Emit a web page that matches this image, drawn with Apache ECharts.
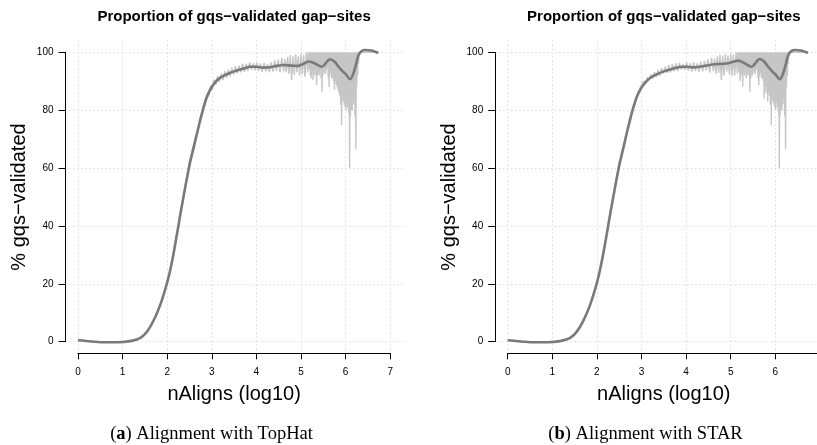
<!DOCTYPE html>
<html>
<head>
<meta charset="utf-8">
<script src="https://cdn.jsdelivr.net/npm/echarts@6/dist/echarts.min.js"></script>
<style>
  html, body { margin: 0; padding: 0; background: #fff; }
  #chart { width: 817px; height: 445px; }
</style>
</head>
<body>
<div id="chart"></div>
<script>
// x positions (log10 nAligns) of the raw proportions, sparse part
const rawX = [
  0, 0.3, 0.48, 0.6, 0.7, 0.78, 0.85, 0.9, 0.95, 1.0, 1.05, 1.1, 1.15, 1.2, 1.25, 1.3, 1.35, 1.4, 1.45, 1.5,
  1.55, 1.6, 1.65, 1.7, 1.75, 1.8, 1.85, 1.9, 1.95, 2.0, 2.05, 2.1, 2.15, 2.2, 2.25, 2.3, 2.35, 2.4, 2.45,
  2.49, 2.53, 2.57, 2.61, 2.65, 2.69, 2.73, 2.77, 2.81, 2.85, 2.89, 2.93, 2.97, 3.01, 3.05, 3.09, 3.13, 3.17,
  3.21, 3.25, 3.29, 3.33, 3.37, 3.41, 3.45, 3.49, 3.53, 3.57, 3.61, 3.65, 3.69, 3.73, 3.77, 3.81, 3.85, 3.89,
  3.93, 3.97, 4.01, 4.05, 4.09, 4.13, 4.17, 4.21, 4.25, 4.29, 4.33, 4.37, 4.41, 4.45, 4.49, 4.53, 4.57, 4.61,
  4.64, 4.67, 4.70, 4.73, 4.76, 4.79, 4.82, 4.85, 4.88, 4.91, 4.94, 4.97, 5.00, 5.03, 5.06, 5.09, 5.12, 5.15
];
const tophatRaw = [
  0.6, 0.2, -0.1, 0.1, -0.3, 0, -0.2, 0.1, -0.3, 0, -0.2, 0.2, 0, 0.4, 0.3, 0.8, 0.7, 1.5, 1.6, 2.6,
  3.2, 4.6, 5.8, 7.9, 8.6, 11.2, 12.6, 15.8, 17.2, 21, 23.1, 27.8, 30.6, 36.2, 39.1, 45.3, 47.8, 53.8, 56.2,
  61.8, 62.2, 66.8, 67.1, 71.5, 72.6, 76.8, 77.2, 81.5, 81.4, 85.6, 84.8, 88.4, 86.9, 90.6, 88.8, 91.8, 89.9,
  92.6, 90.4, 93.5, 91.2, 94.1, 91.6, 94.7, 92.3, 95.2, 92.6, 95.4, 93.1, 96.1, 93.2, 96.0, 93.6, 96.5, 93.9,
  96.2, 93.8, 96.4, 93.5, 96.1, 93.2, 96.3, 93.4, 96.0, 93.1, 96.6, 93.3, 97.2, 93.6, 97.5, 93.1, 98.0, 93.4,
  97.6, 93.0, 98.4, 92.5, 99.0, 90.4, 98.6, 92.2, 99.3, 93.1, 98.7, 92.0, 99.5, 92.4, 99.0, 91.6, 100, 93.0
];
const starRaw = [
  0.5, 0.1, -0.2, 0.0, -0.3, -0.1, -0.2, 0.0, -0.3, -0.1, -0.2, 0.1, 0, 0.3, 0.4, 0.7, 0.8, 1.4, 1.7, 2.5,
  3.3, 4.4, 6.0, 7.7, 8.8, 11.0, 12.9, 15.6, 17.5, 20.7, 23.5, 27.4, 31.0, 35.8, 39.5, 44.9, 48.3, 53.4, 56.6,
  61.4, 62.8, 66.2, 67.9, 71.0, 73.2, 76.1, 77.9, 80.8, 82.0, 84.9, 85.3, 87.8, 87.4, 90.1, 89.2, 91.4, 90.3,
  92.3, 90.9, 93.1, 91.5, 93.9, 91.9, 94.5, 92.6, 95.0, 92.8, 95.6, 93.0, 95.9, 93.4, 96.2, 93.5, 96.3, 94.0,
  96.0, 93.9, 96.5, 93.6, 96.2, 93.3, 96.5, 93.5, 96.2, 93.2, 96.8, 93.4, 97.0, 93.7, 97.6, 93.0, 98.2, 93.5,
  97.8, 92.6, 98.6, 92.9, 99.2, 90.4, 98.8, 91.9, 99.5, 93.4, 98.9, 92.3, 99.6, 91.8, 99.2, 92.0, 100, 92.7
];

// dense part (5.16 .. 6.32) where small counts flip between 100% and lower values
const denseX = [
  5.16, 5.17, 5.18, 5.19, 5.20, 5.21, 5.22, 5.23, 5.24, 5.25, 5.26, 5.27, 5.28, 5.29, 5.30, 5.31, 5.32, 5.33, 5.34, 5.35,
  5.36, 5.37, 5.38, 5.39, 5.40, 5.41, 5.42, 5.43, 5.44, 5.45, 5.46, 5.47, 5.48, 5.49, 5.50, 5.51, 5.52, 5.53, 5.54, 5.55,
  5.56, 5.57, 5.58, 5.59, 5.60, 5.61, 5.62, 5.63, 5.64, 5.65, 5.66, 5.67, 5.68, 5.69, 5.70, 5.71, 5.72, 5.73, 5.74, 5.75,
  5.76, 5.77, 5.78, 5.79, 5.80, 5.81, 5.82, 5.83, 5.84, 5.85, 5.86, 5.87, 5.88, 5.89, 5.90, 5.91, 5.92, 5.93, 5.94, 5.95,
  5.96, 5.97, 5.98, 5.99, 6.00, 6.01, 6.02, 6.03, 6.04, 6.05, 6.06, 6.07, 6.08, 6.09, 6.10, 6.11, 6.12, 6.13, 6.14, 6.15,
  6.16, 6.17, 6.18, 6.19, 6.20, 6.21, 6.22, 6.23, 6.24, 6.25, 6.26, 6.27, 6.28, 6.29, 6.30, 6.31, 6.32,
  6.36, 6.45, 6.55, 6.65, 6.74
];
const tophatDense = [
  100, 95, 100, 94, 100, 92, 100, 91, 100, 93, 100, 90.4, 100, 93, 100, 92, 100, 94, 100, 88.7,
  100, 92, 100, 93, 100, 92, 100, 94, 100, 91, 100, 86.4, 100, 92, 100, 95, 100, 93, 100, 92.5,
  100, 94, 100, 95, 100, 91, 100, 88, 100, 92, 100, 93, 100, 91, 100, 91, 100, 90, 100, 87,
  100, 90, 100, 89, 100, 88, 100, 87, 100, 86, 100, 85, 100, 82, 100, 74.9, 100, 84, 100, 83,
  100, 82, 100, 81, 100, 80, 100, 83, 100, 81, 100, 79, 100, 59.9, 100, 78, 100, 80, 100, 80,
  100, 82, 100, 84, 100, 78, 100, 66.5, 100, 88, 100, 92, 100, 96, 100, 99, 100,
  100, 100, 100, 100, 100
];
const starDense = [
  100, 95, 100, 93, 100, 90, 100, 92, 100, 93, 100, 88.1, 100, 93, 100, 92, 100, 94, 100, 91,
  100, 92, 100, 93, 100, 92, 100, 86.4, 100, 91, 100, 92, 100, 92, 100, 95, 100, 93, 100, 92.5,
  100, 94, 100, 95, 100, 91, 100, 88.7, 100, 92, 100, 93, 100, 91, 100, 91, 100, 90, 100, 84,
  100, 90, 100, 86, 100, 88, 100, 82.9, 100, 86, 100, 85, 100, 82, 100, 74.9, 100, 84, 100, 83,
  100, 82, 100, 81, 100, 80, 100, 83, 100, 81, 100, 79, 100, 59.9, 100, 78, 100, 80, 100, 80,
  100, 82, 100, 84, 100, 78, 100, 66.5, 100, 88, 100, 92, 100, 96, 100, 99, 100,
  100, 100, 100, 100, 100
];

// loess-like trend lines
const smoothX = [
  0, 0.3, 0.6, 0.9, 1.2, 1.4, 1.55, 1.7, 1.85, 2.0, 2.1, 2.2, 2.3, 2.4, 2.5, 2.6, 2.7, 2.8, 2.9, 3.0,
  3.1, 3.2, 3.35, 3.5, 3.7, 3.86, 4.0, 4.15, 4.3, 4.45, 4.6, 4.8, 4.94, 5.05, 5.17, 5.3, 5.47, 5.57, 5.65, 5.75,
  5.84, 5.93, 6.0, 6.1, 6.17, 6.22, 6.29, 6.36, 6.44, 6.58, 6.68, 6.73
];
const tophatSmooth = [
  0.5, 0.1, -0.2, -0.2, 0.3, 1.3, 3.5, 7.5, 13, 20.5, 27, 35.5, 44.5, 53, 61, 67.5, 74, 80, 85, 88,
  90, 91.3, 92.5, 93.4, 94.3, 95, 95, 94.7, 94.8, 95.3, 95.6, 95.4, 95.3, 96, 96.8, 96.2, 95, 96.5, 97.6, 96.8,
  95, 93.5, 92.5, 90.7, 92.5, 95, 99, 100.4, 100.8, 100.6, 100.1, 99.7
];
const starSmooth = [
  0.5, 0.1, -0.2, -0.2, 0.3, 1.3, 3.5, 7.4, 12.8, 20.3, 27, 35.3, 44.3, 52.8, 60.8, 67.4, 74, 80, 84.8, 87.8,
  89.8, 91.2, 92.4, 93.4, 94.3, 94.9, 95, 94.8, 95, 95.4, 95.8, 96, 96.2, 96.7, 97.1, 96.3, 95, 96.6, 97.7, 96.8,
  95, 93.4, 92.4, 90.7, 92.5, 95, 99, 100.4, 100.8, 100.6, 100.1, 99.7
];

const xTicks = [0, 7, 1];      // min, max, interval
const yTicks = [0, 100, 20];
const titleText = 'Proportion of gqs\u2212validated gap\u2212sites';
const xName = 'nAligns (log10)';
const yName = '% gqs\u2212validated';

const sans = 'Liberation Sans, Arial, Helvetica, sans-serif';
const serif = 'Liberation Serif, Times New Roman, serif';
const pxPerUnit = 44.6;
const panelLeft = [78, 507.7];   // pixel of x = 0 in each panel

const pairs = (xs, ys) => xs.map((x, i) => [x, ys[i]]);

const chart = echarts.init(document.getElementById('chart'), null, { renderer: 'canvas' });

const grids = [], xAxes = [], yAxes = [], series = [];
const panels = [
  { raw: tophatRaw, dense: tophatDense, smooth: tophatSmooth },
  { raw: starRaw, dense: starDense, smooth: starSmooth }
];

const gridLine = { show: true, lineStyle: { color: '#cfcfcf', type: [1, 3], width: 1 } };

panels.forEach((p, k) => {
  const x0 = panelLeft[k];
  const w = pxPerUnit * 7;
  // data grid + x axis (y spans -4..104 like R's 4% padding)
  grids.push({ left: x0, top: 40.7, width: w, height: 312.6, outerBoundsMode: 'none', containLabel: false });
  // y-axis grid spanning the full plot region horizontally
  grids.push({ left: x0 - 12.5, top: 52.3, width: w + 25, height: 289.4, outerBoundsMode: 'none', containLabel: false });

  const gd = k * 2, gy = k * 2 + 1;
  xAxes.push({
    gridIndex: gd, type: 'value', min: xTicks[0], max: xTicks[1], interval: xTicks[2],
    axisLine: { show: true, onZero: false, lineStyle: { color: '#000', width: 1 } },
    axisTick: { show: true, length: 6, lineStyle: { color: '#000' } },
    axisLabel: { fontSize: 10, color: '#000', fontFamily: sans, margin: 14 },
    splitLine: gridLine,
    name: xName, nameLocation: 'middle', nameGap: 31,
    nameTextStyle: { fontSize: 20, color: '#000', fontFamily: sans }
  });
  yAxes.push({ gridIndex: gd, type: 'value', min: -4, max: 104, show: false });

  xAxes.push({ gridIndex: gy, type: 'value', min: 0, max: 1, show: false });
  yAxes.push({
    gridIndex: gy, type: 'value', min: yTicks[0], max: yTicks[1], interval: yTicks[2],
    axisLine: { show: true, onZero: false, lineStyle: { color: '#000', width: 1 } },
    axisTick: { show: true, length: 7, lineStyle: { color: '#000' } },
    axisLabel: { fontSize: 10, color: '#000', fontFamily: sans, margin: 12 },
    splitLine: gridLine,
    name: yName, nameLocation: 'middle', nameRotate: 90, nameGap: 36,
    nameTextStyle: { fontSize: 20, color: '#000', fontFamily: sans }
  });

  series.push({
    type: 'line', xAxisIndex: gd, yAxisIndex: gd,
    data: pairs(rawX, p.raw).concat(pairs(denseX, p.dense)),
    showSymbol: false, symbol: 'none', clip: false,
    lineStyle: { color: '#c6c6c6', width: 1.4, join: 'bevel' }, z: 2
  });
  series.push({
    type: 'line', xAxisIndex: gd, yAxisIndex: gd, data: pairs(smoothX, p.smooth),
    showSymbol: false, symbol: 'none', smooth: 0.35, clip: false,
    lineStyle: { color: '#7a7a7a', width: 2.6 }, z: 3
  });
});

const captions = [
  { x: 211.5, text: '({b|a}) Alignment with TopHat' },
  { x: 645.5, text: '({b|b}) Alignment with STAR' }
];

const graphics = [];
panels.forEach((p, k) => {
  graphics.push({
    type: 'text', x: panelLeft[k] + pxPerUnit * 3.5, y: 17,
    style: { text: titleText, fontSize: 15, fontWeight: 'bold', fontFamily: sans,
             fill: '#000', textAlign: 'center', textVerticalAlign: 'middle' }
  });
  graphics.push({
    type: 'text', x: captions[k].x, y: 434,
    style: { text: captions[k].text, fontSize: 18.5, fontFamily: serif, fill: '#000',
             textAlign: 'center', textVerticalAlign: 'middle',
             rich: { b: { fontSize: 18.5, fontFamily: serif, fontWeight: 'bold', fill: '#000' } } }
  });
});

chart.setOption({
  animation: false,
  backgroundColor: '#fff',
  grid: grids,
  xAxis: xAxes,
  yAxis: yAxes,
  series: series,
  graphic: graphics
});
</script>
</body>
</html>
